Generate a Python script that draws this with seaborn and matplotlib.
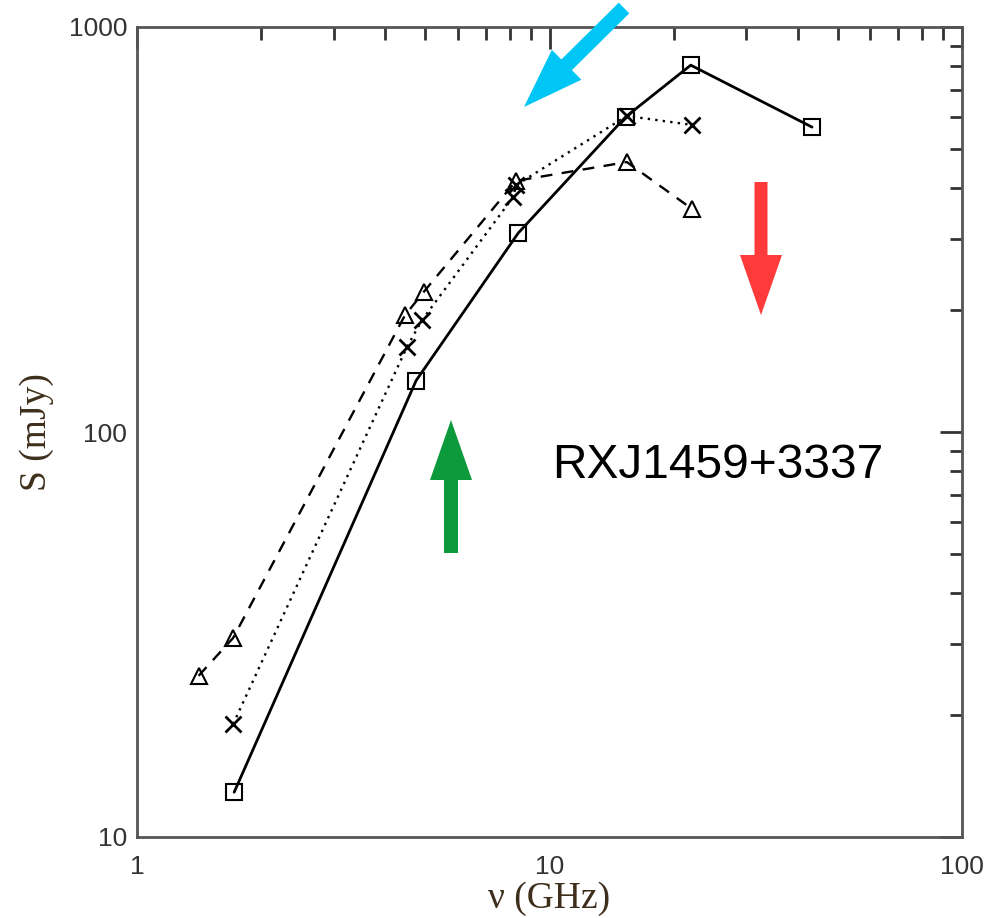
import matplotlib
matplotlib.use("Agg")
import matplotlib.pyplot as plt
from matplotlib.patches import FancyArrow
from matplotlib.transforms import IdentityTransform
from matplotlib.ticker import LogLocator, NullFormatter, FixedLocator, FixedFormatter
import seaborn as sns

# Radio spectra of RXJ1459+3337 at three epochs
freq_square = [1.72, 4.75, 8.4, 15.3, 22.0, 43.3]
flux_square = [12.9, 134, 310, 600, 805, 566]

freq_cross = [1.71, 4.51, 4.91, 8.16, 8.3, 15.4, 22.2]
flux_cross = [19, 162, 189, 380, 407, 603, 573]

freq_triangle = [1.41, 1.71, 4.46, 4.96, 8.3, 15.4, 22.2]
flux_triangle = [25, 31, 194, 222, 417, 464, 355]

x_ticks = [1, 10, 100]
x_tick_labels = ["1", "10", "100"]
y_ticks = [10, 100, 1000]
y_tick_labels = ["10", "100", "1000"]

source_name = "RXJ1459+3337"

sns.set_theme(style="white")
plt.rcParams["font.family"] = ["Liberation Sans", "DejaVu Sans"]

W, H = 1000, 918
fig = plt.figure(figsize=(W / 100, H / 100), dpi=100)
ax = fig.add_axes([137 / W, (H - 837) / H, 825 / W, 810 / H])

common = dict(ax=ax, estimator=None, sort=False, color="black")

sns.lineplot(x=freq_square, y=flux_square, linestyle="-", lw=2.0,
             marker="s", markersize=12, markerfacecolor="none",
             markeredgecolor="black", markeredgewidth=1.5, **common)
sns.lineplot(x=freq_cross, y=flux_cross, linestyle=(0, (1, 2.2)), lw=1.7,
             marker="x", markersize=11, markeredgecolor="black",
             markeredgewidth=2.0, **common)
sns.lineplot(x=freq_triangle, y=flux_triangle, linestyle=(0, (5, 4)), lw=1.7,
             marker="^", markersize=12, markerfacecolor="none",
             markeredgecolor="black", markeredgewidth=1.5, **common)

ax.set_xscale("log")
ax.set_yscale("log")
ax.set_xlim(1, 100)
ax.set_ylim(10, 1000)

for axis, ticks, labels in ((ax.xaxis, x_ticks, x_tick_labels),
                            (ax.yaxis, y_ticks, y_tick_labels)):
    axis.set_major_locator(FixedLocator(ticks))
    axis.set_major_formatter(FixedFormatter(labels))
    axis.set_minor_locator(LogLocator(base=10, subs=range(2, 10)))
    axis.set_minor_formatter(NullFormatter())

ax.tick_params(which="both", direction="in", top=True, right=True,
               width=2, color="#333333", labelsize=19, labelcolor="#333333")
ax.tick_params(which="major", length=16)
ax.tick_params(which="minor", length=9)
ax.tick_params(axis="x", which="major", pad=13)
ax.tick_params(axis="y", which="major", pad=7)

for spine in ax.spines.values():
    spine.set_color("#555555")
    spine.set_linewidth(2)

label_font = dict(family=["Liberation Serif", "DejaVu Serif"], size=27,
                  color="#3e2e1c")
ax.set_xlabel("ν (GHz)", **label_font)
ax.set_ylabel("S (mJy)", **label_font)
ax.xaxis.set_label_coords(0.5, -0.055)
ax.yaxis.set_label_coords(-0.1, 0.5)

ax.text(0.503, 0.459, source_name, transform=ax.transAxes, ha="left",
        va="center", fontsize=34.5, color="black",
        family=["Liberation Sans", "DejaVu Sans"])


def block_arrow(x0, y0, x1, y1, color, width=14, head_width=42, head_length=60):
    """Draw a solid arrow between two points given in pixels from the top-left."""
    arrow = FancyArrow(x0, H - y0, x1 - x0, -(y1 - y0), width=width,
                       head_width=head_width, head_length=head_length,
                       length_includes_head=True, color=color, lw=0,
                       transform=IdentityTransform())
    fig.add_artist(arrow)


block_arrow(624, 8, 524, 107, "#00c6f6", width=15)
block_arrow(761, 182, 761, 315, "#ff3a3a", width=13)
block_arrow(451, 553, 451, 420, "#0c9a3c", width=14)

fig.savefig("out.png", dpi=100, facecolor="white")
